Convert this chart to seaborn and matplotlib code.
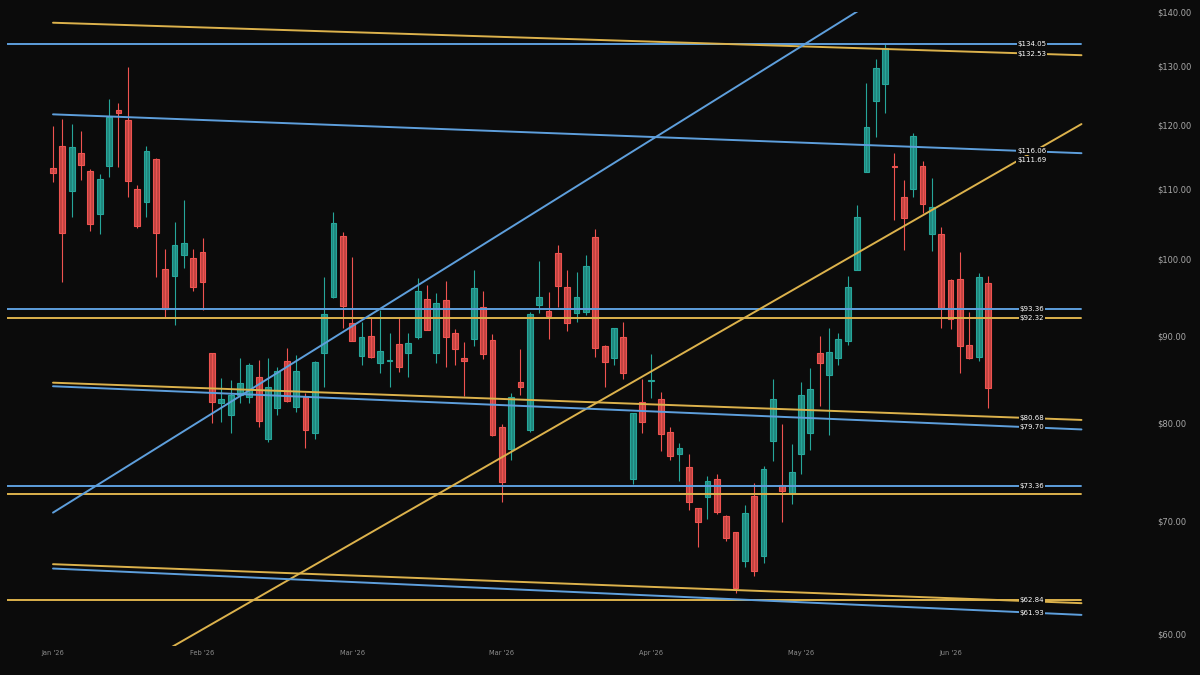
import numpy as np
import pandas as pd
import matplotlib
matplotlib.use("Agg")
import matplotlib.pyplot as plt
from matplotlib.ticker import FixedLocator, FixedFormatter, NullLocator, NullFormatter
import seaborn as sns

# daily candles, bar index 0..100
opens = [113.24, 116.69, 109.71, 115.58, 112.69, 106.28, 113.55, 122.51, 120.85, 110.00,
         108.03, 114.54, 98.68, 97.75, 100.54, 100.09, 100.89, 87.94, 82.16, 80.86,
         83.09, 82.90, 85.19, 78.22, 81.60, 87.07, 81.78, 82.90, 78.86, 88.02,
         94.99, 103.18, 91.62, 87.62, 90.08, 86.83, 87.08, 89.06, 88.02, 89.88,
         94.69, 88.02, 94.57, 90.45, 87.34, 89.63, 93.63, 89.55, 79.58, 77.16,
         84.58, 79.22, 93.93, 93.16, 100.78, 96.21, 92.87, 93.07, 103.08, 88.85,
         87.34, 89.95, 74.10, 82.34, 84.72, 82.63, 79.04, 76.70, 75.29, 71.20,
         72.34, 74.13, 70.49, 68.91, 66.30, 72.41, 66.73, 78.08, 73.51, 72.67,
         76.67, 78.93, 87.94, 85.38, 87.34, 89.47, 98.51, 112.63, 124.07, 126.93,
         113.55, 108.77, 109.95, 113.55, 103.42, 103.42, 97.18, 97.26, 88.90, 87.46,
         96.74]
highs = [119.91, 120.95, 120.19, 119.05, 113.04, 112.23, 124.35, 123.63, 129.95, 110.61,
         116.69, 114.70, 101.32, 105.22, 108.37, 101.36, 102.85, 88.02, 85.00, 84.81,
         87.34, 86.76, 87.15, 87.34, 86.28, 88.61, 87.74, 83.28, 87.00, 97.61,
         106.66, 103.79, 100.31, 91.82, 92.44, 93.29, 90.37, 92.31, 90.37, 97.40,
         96.52, 95.51, 97.05, 90.90, 89.34, 98.51, 95.78, 90.25, 79.87, 83.28,
         88.42, 93.00, 99.73, 95.65, 101.92, 98.51, 98.28, 100.54, 104.17, 88.90,
         91.07, 91.74, 81.08, 84.92, 87.82, 83.40, 79.58, 77.80, 76.64, 71.25,
         74.41, 74.61, 70.56, 68.95, 71.53, 73.74, 75.43, 84.89, 79.87, 77.69,
         84.54, 86.17, 90.04, 90.99, 90.41, 97.71, 107.63, 127.15, 131.26, 134.04,
         115.49, 111.36, 118.77, 114.33, 111.61, 104.50, 97.26, 101.00, 93.07, 98.15,
         97.71]
lows = [111.10, 96.96, 105.93, 111.36, 103.93, 103.42, 111.77, 113.40, 108.86, 104.27,
        105.84, 97.61, 92.44, 91.40, 98.73, 95.78, 93.29, 79.95, 80.12, 78.86,
        82.16, 82.16, 79.58, 77.97, 80.86, 82.34, 81.22, 77.27, 78.22, 84.03,
        94.78, 90.99, 89.43, 86.56, 87.34, 85.58, 84.03, 85.77, 85.11, 89.67,
        90.72, 86.83, 86.35, 86.56, 82.98, 88.85, 87.22, 78.57, 71.85, 76.05,
        83.09, 78.97, 92.87, 89.67, 93.71, 90.66, 91.82, 92.65, 87.46, 84.03,
        86.56, 84.92, 73.58, 78.86, 82.78, 76.99, 76.05, 73.91, 71.04, 67.52,
        70.17, 70.64, 68.13, 63.47, 65.76, 64.96, 66.12, 75.95, 69.92, 71.63,
        74.61, 77.09, 81.85, 78.68, 86.56, 88.94, 98.45, 112.58, 118.12, 122.06,
        105.46, 101.23, 108.86, 106.42, 101.13, 90.99, 90.87, 85.58, 87.22, 87.07,
        81.60]
closes = [112.48, 103.56, 116.43, 113.61, 104.84, 111.46, 121.39, 122.06, 111.26, 104.60,
          115.90, 103.56, 93.37, 101.88, 102.20, 96.21, 96.96, 82.27, 82.60, 83.09,
          84.50, 86.56, 80.23, 83.97, 85.85, 82.41, 85.85, 79.22, 86.95, 92.78,
          105.07, 93.80, 89.47, 89.88, 87.53, 88.26, 87.14, 86.35, 89.15, 95.78,
          90.78, 94.14, 89.95, 88.42, 87.00, 96.08, 87.86, 78.68, 73.84, 82.90,
          84.03, 92.74, 94.92, 92.57, 96.43, 91.62, 94.99, 99.05, 88.61, 86.95,
          90.99, 85.58, 81.04, 80.06, 84.78, 78.76, 76.46, 77.27, 71.85, 69.86,
          73.93, 70.82, 68.41, 63.85, 70.72, 65.41, 75.12, 82.60, 72.93, 74.85,
          83.09, 83.77, 86.83, 88.14, 89.63, 96.29, 105.93, 119.75, 129.66, 133.25,
          113.40, 105.69, 118.28, 107.74, 107.38, 93.58, 92.11, 88.82, 87.34, 97.61,
          83.85]

tick_bars = [0, 16, 32, 48, 64, 80, 96]
tick_labels = ["Jan '26", "Feb '26", "Mar '26", "Mar '26", "Apr '26", "May '26", "Jun '26"]
price_ticks = [60, 70, 80, 90, 100, 110, 120, 130, 140]

# horizontal support / resistance levels
level_values = [134.05, 93.36, 92.32, 73.36, 72.64, 62.84]
level_colors = ["blue", "blue", "gold", "blue", "gold", "gold"]
level_labeled = [True, True, True, True, False, True]

# trend lines: price at first bar and at last bar
trend_start = [137.97, 121.78, 70.78, 53.70, 84.49, 84.08, 65.98, 65.59]
trend_end = [132.53, 116.06, 156.55, 111.69, 80.68, 79.70, 62.87, 61.93]
trend_colors = ["gold", "blue", "blue", "gold", "gold", "blue", "gold", "blue"]
trend_labeled = [True, True, False, True, True, True, False, True]

BG = "#0b0b0b"
COLORS = {"blue": "#5e9fdc", "gold": "#dcb24c"}
UP, DOWN = "#26a69a", "#ef5350"

df = pd.DataFrame({"open": opens, "high": highs, "low": lows, "close": closes})
df["bar"] = np.arange(len(df))
last_bar = df["bar"].iloc[-1]
line_end = 110
label_bar = 104.7
x_min, x_max = -4.92, 117.33
y_min, y_max = 59.02, 140


def trend_at(start, end, x):
    # straight on a log axis
    return start * (end / start) ** (x / last_bar)


sns.set_theme(style="dark", rc={"axes.facecolor": BG, "figure.facecolor": BG})
plt.rcParams['font.family'] = ['DejaVu Sans']

fig = plt.figure(figsize=(12, 6.75), dpi=100)
ax = fig.add_axes([0.00583, 0.04296, 0.9525, 0.93926])
ax.set_yscale("log")

# candles
up = df["close"] >= df["open"]
col = np.where(up, UP, DOWN)
ax.vlines(df["bar"], df["low"], df["high"], colors=col, lw=0.8, zorder=1.5)
body_lo = df[["open", "close"]].min(axis=1)
body_hi = df[["open", "close"]].max(axis=1)
ax.bar(df["bar"], body_hi - body_lo, bottom=body_lo, width=0.62,
       color=[matplotlib.colors.to_rgba(c, 0.8) for c in col],
       edgecolor=col, linewidth=0.8, zorder=1.6)

# lines as one long table for seaborn
rows = []
for k, v in enumerate(level_values):
    rows.append({"line": f"h{k}", "bar": x_min, "price": v})
    rows.append({"line": f"h{k}", "bar": line_end, "price": v})
for k, (s, e) in enumerate(zip(trend_start, trend_end)):
    rows.append({"line": f"t{k}", "bar": 0, "price": s})
    rows.append({"line": f"t{k}", "bar": line_end, "price": trend_at(s, e, line_end)})
lines_df = pd.DataFrame(rows)
palette = {f"h{k}": COLORS[c] for k, c in enumerate(level_colors)}
palette.update({f"t{k}": COLORS[c] for k, c in enumerate(trend_colors)})
sns.lineplot(data=lines_df, x="bar", y="price", hue="line", palette=palette,
             legend=False, lw=1.4, estimator=None, ax=ax, zorder=3)

# price labels on the lines, pushed apart when they overlap
labels = []
for v, flag in zip(level_values, level_labeled):
    if flag:
        labels.append((v, v))
for s, e, flag in zip(trend_start, trend_end, trend_labeled):
    if flag:
        labels.append((trend_at(s, e, label_bar), e))
labels.sort(key=lambda t: -t[0])
px_per_ln = 0.93926 * 675 / np.log(y_max / y_min)
gap = 9 / px_per_ln
prev = None
for pos, val in labels:
    lp = np.log(pos)
    if prev is not None and prev - lp < gap:
        lp = prev - gap
    prev = lp
    ax.text(label_bar, np.exp(lp), f"${val:.2f}", color="white", fontsize=5,
            ha="center", va="center", zorder=6,
            bbox=dict(boxstyle="square,pad=0.12", fc=BG, ec="none"))

ax.set_xlim(x_min, x_max)
ax.set_ylim(y_min, y_max)
ax.set_xlabel("")
ax.set_ylabel("")
ax.yaxis.tick_right()
ax.yaxis.set_major_locator(FixedLocator(price_ticks))
ax.yaxis.set_major_formatter(FixedFormatter([f"${p:.2f}" for p in price_ticks]))
ax.yaxis.set_minor_locator(NullLocator())
ax.yaxis.set_minor_formatter(NullFormatter())
ax.set_xticks(tick_bars)
ax.set_xticklabels(tick_labels)
ax.tick_params(axis="y", labelsize=6, labelcolor="#a8a8a8", length=0, pad=5)
ax.tick_params(axis="x", labelsize=4.8, labelcolor="#8c8c8c", length=0, pad=3)
ax.grid(False)
for sp in ax.spines.values():
    sp.set_visible(False)

fig.savefig("out.png", dpi=100, facecolor=BG)
